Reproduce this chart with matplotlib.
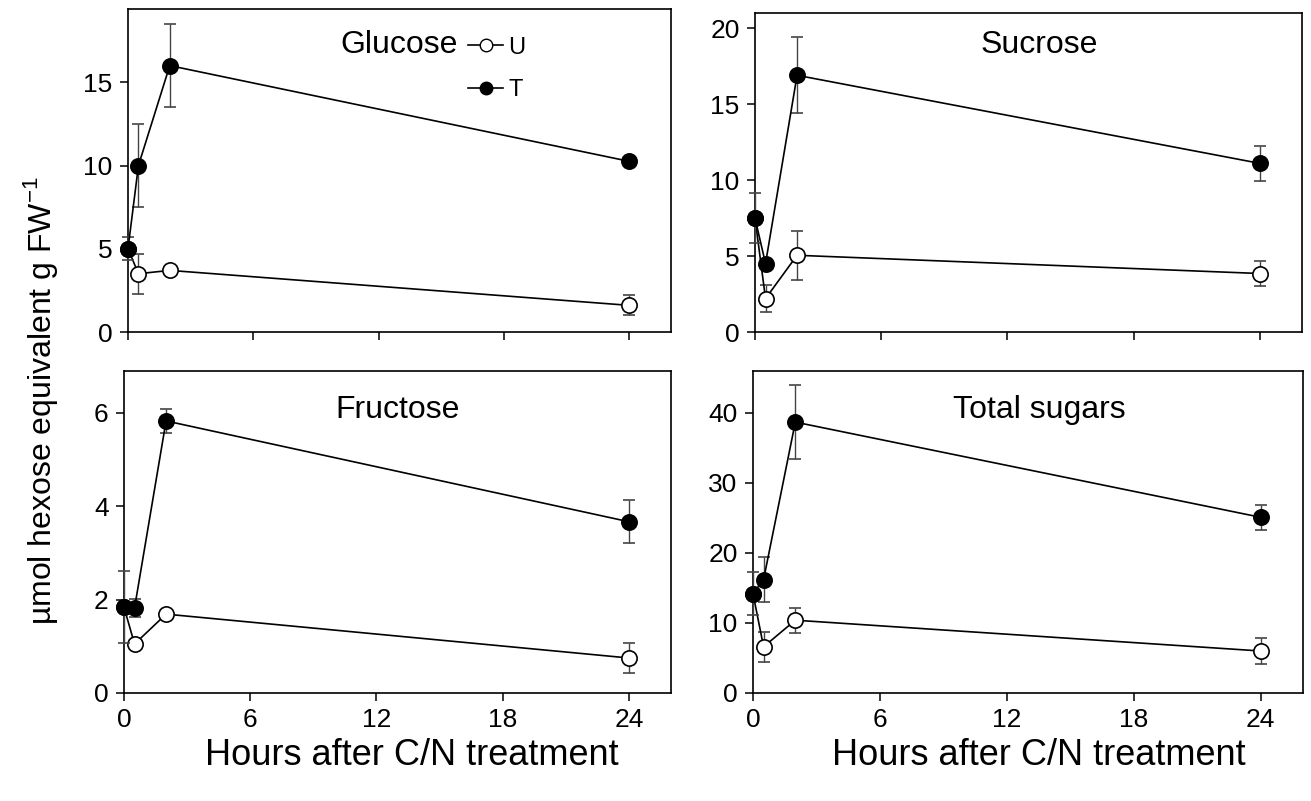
import matplotlib
matplotlib.use('Agg')
import matplotlib.pyplot as plt
from matplotlib.lines import Line2D

plt.rcParams['font.family'] = ['Liberation Sans', 'DejaVu Sans']
plt.rcParams['mathtext.fontset'] = 'custom'
plt.rcParams['mathtext.rm'] = 'Liberation Sans'

hours = [0, 0.5, 2, 24]

glucose_u = [5.0, 3.5, 3.7, 1.6]
glucose_u_err = [0.0, 1.2, 0.0, 0.6]
glucose_t = [5.0, 10.0, 16.0, 10.25]
glucose_t_err = [0.7, 2.5, 2.5, 0.0]

sucrose_u = [7.5, 2.2, 5.05, 3.85]
sucrose_u_err = [0.0, 0.9, 1.6, 0.8]
sucrose_t = [7.5, 4.5, 16.9, 11.1]
sucrose_t_err = [1.65, 0.0, 2.5, 1.15]

fructose_u = [1.84, 1.05, 1.69, 0.75]
fructose_u_err = [0.0, 0.0, 0.0, 0.32]
fructose_t = [1.84, 1.82, 5.83, 3.67]
fructose_t_err = [0.77, 0.2, 0.25, 0.46]

total_u = [14.2, 6.6, 10.4, 6.0]
total_u_err = [0.0, 2.1, 1.8, 1.8]
total_t = [14.2, 16.2, 38.7, 25.1]
total_t_err = [3.1, 3.2, 5.3, 1.8]

panels = [
    ('Glucose', glucose_u, glucose_u_err, glucose_t, glucose_t_err, 19.4, [0, 5, 10, 15]),
    ('Sucrose', sucrose_u, sucrose_u_err, sucrose_t, sucrose_t_err, 21.0, [0, 5, 10, 15, 20]),
    ('Fructose', fructose_u, fructose_u_err, fructose_t, fructose_t_err, 6.9, [0, 2, 4, 6]),
    ('Total sugars', total_u, total_u_err, total_t, total_t_err, 46, [0, 10, 20, 30, 40]),
]

W, H = 1311, 801
# axes boxes in pixels: left, top, right, bottom
boxes = [(128, 9, 671, 332), (755, 13, 1302, 332), (124, 371, 671, 693), (753, 371, 1303, 693)]
title_y = [0.89, 0.90, 0.88, 0.88]
title_x = [0.5, 0.52, 0.5, 0.52]
xlabel_x = [0.5, 0.5, 0.527, 0.52]

fig = plt.figure(figsize=(W / 100, H / 100), dpi=100)

for i, (name, u, ue, t, te, ymax, yt) in enumerate(panels):
    l, tp, r, b = boxes[i]
    ax = fig.add_axes([l / W, 1 - b / H, (r - l) / W, (b - tp) / H])
    ax.errorbar(hours, u, yerr=ue, color='black', ecolor='#444444', elinewidth=1, capsize=4,
                capthick=1, lw=1.2, marker='o', ms=11, mfc='white', mec='black', mew=1.2,
                clip_on=False, zorder=3)
    ax.errorbar(hours, t, yerr=te, color='black', ecolor='#444444', elinewidth=1, capsize=4,
                capthick=1, lw=1.2, marker='o', ms=11, mfc='black', mec='black', mew=1.2,
                clip_on=False, zorder=4)
    ax.set_xlim(0, 26)
    ax.set_ylim(0, ymax)
    ax.set_xticks([0, 6, 12, 18, 24])
    ax.set_yticks(yt)
    ax.tick_params(direction='out', length=6, width=1.1, labelsize=19, pad=5)
    for s in ax.spines.values():
        s.set_linewidth(1.2)
    ax.text(title_x[i], title_y[i], name, transform=ax.transAxes, ha='center', va='center', fontsize=23)
    if i < 2:
        ax.tick_params(labelbottom=False)
    else:
        ax.set_xlabel('Hours after C/N treatment', fontsize=26, labelpad=4)
        ax.xaxis.label.set_x(xlabel_x[i])
    if i == 0:
        handles = [
            Line2D([], [], color='black', lw=1.2, marker='o', ms=9, mfc='white', mec='black'),
            Line2D([], [], color='black', lw=1.2, marker='o', ms=9, mfc='black', mec='black'),
        ]
        ax.legend(handles, ['U', 'T'], loc='upper left', bbox_to_anchor=(0.587, 0.98), frameon=False,
                  handlelength=1.5, handletextpad=0.2, labelspacing=0.85, fontsize=17)

fig.text(0.031, 0.5, 'µmol hexose equivalent g FW$^{-1}$', rotation=90, ha='center', va='center', fontsize=23)

fig.savefig('out.png', dpi=100)
